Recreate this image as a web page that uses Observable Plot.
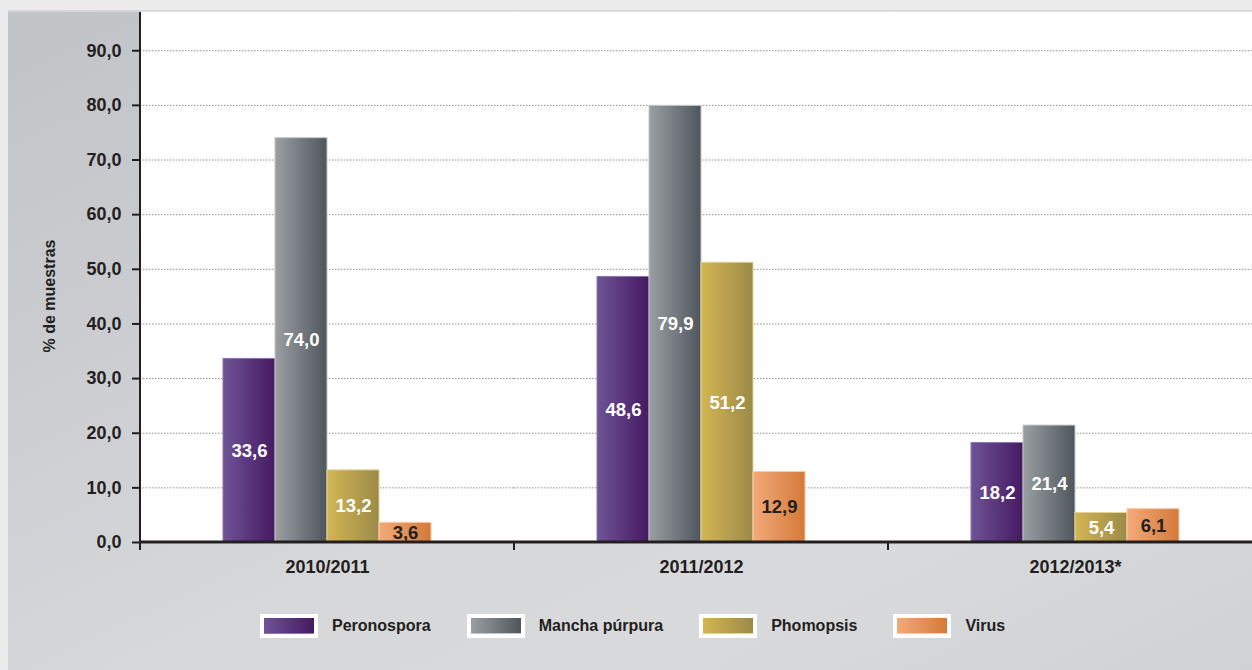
<!DOCTYPE html>
<html>
<head>
<meta charset="utf-8">
<script src="https://cdn.jsdelivr.net/npm/d3@7"></script>
<script src="https://cdn.jsdelivr.net/npm/@observablehq/plot@0.6"></script>
<style>
  html, body { margin: 0; padding: 0; width: 1252px; height: 670px; overflow: hidden; background: #ececec; }
  #bg { position: absolute; left: 8px; top: 10px; width: 1260px; height: 670px;
        border-top: 2px solid #d6d6d6;
        background: linear-gradient(155deg, #c1c4c7 0%, #c9cbce 25%, #d6d7d9 55%, #d9dadc 75%, #cfd1d3 100%); }
  #chart { position: absolute; left: 0; top: 0; width: 1262px; }
  #chart svg { max-width: none !important; }
  #legend { position: absolute; left: 260px; top: 614px; display: flex; align-items: center;
            font-family: "Liberation Sans", Arial, sans-serif; font-weight: bold; font-size: 16px; color: #231f20; }
  .item { display: flex; align-items: center; margin-right: 36px; }
  .box { width: 50px; height: 16px; border: 4px solid #fff; margin-right: 14px; }
</style>
</head>
<body>
<div id="bg"></div>
<div id="chart"></div>
<div id="legend"></div>
<script>
// ---- data ----
const years = ["2010/2011", "2011/2012", "2012/2013*"];
const series = ["Peronospora", "Mancha púrpura", "Phomopsis", "Virus"];
const peronospora = [33.6, 48.6, 18.2];
const manchaPurpura = [74.0, 79.9, 21.4];
const phomopsis = [13.2, 51.2, 5.4];
const virus = [3.6, 12.9, 6.1];
const yTicks = [0, 10, 20, 30, 40, 50, 60, 70, 80, 90];
const yLabel = "% de muestras";

// ---- styles ----
const gradStops = [["#6f5397", "#451962"], ["#9b9fa2", "#4e565d"], ["#d3b553", "#9b8a47"], ["#f3aa79", "#d47939"]];
const strokes = ["#8c77ad", "#c3c6c8", "#e3d396", "#f8cba9"];
const labelColors = ["#ffffff", "#ffffff", "#ffffff", "#231f20"];
const ink = "#231f20";

const valuesBySeries = [peronospora, manchaPurpura, phomopsis, virus];
const data = years.flatMap((yr, i) => series.map((s, j) => ({year: yr, series: s, value: valuesBySeries[j][i], idx: j})));
const fmt = v => v.toFixed(1).replace(".", ",");

const W = 1262, H = 600, ML = 140, MR = 0, MT = 12, MB = H - 542;

const chart = Plot.plot({
  width: W,
  height: H,
  marginLeft: ML,
  marginRight: MR,
  marginTop: MT,
  marginBottom: MB,
  style: {background: "transparent", color: ink, fontFamily: "'Liberation Sans', Arial, sans-serif", overflow: "visible", maxWidth: "none"},
  fx: {domain: years, padding: 0, label: null},
  x: {domain: series, paddingInner: 0, paddingOuter: 1.56, axis: null},
  y: {domain: [0, 97], label: null},
  color: {type: "identity"},
  marks: [
    Plot.frame({fill: "white", stroke: "white", strokeWidth: 1.5}),
    Plot.gridY(yTicks.filter(v => v > 0), {stroke: "#8f8f8f", strokeOpacity: 1, strokeWidth: 1, strokeDasharray: "1.5,1.5"}),
    Plot.barY(data, {fx: "year", x: "series", y: "value", fill: d => `url(#grad${d.idx})`, stroke: d => strokes[d.idx], strokeWidth: 1}),
    Plot.text(data, {fx: "year", x: "series", y: d => d.value / 2, text: d => fmt(d.value), fill: d => labelColors[d.idx],
      fontSize: 18.5, fontWeight: "bold"}),
    Plot.axisY(yTicks, {tickSize: 8, tickPadding: 11, tickFormat: fmt, fontSize: 18, fontWeight: "bold", strokeWidth: 2, label: null}),
    Plot.axisFx({anchor: "bottom", tickSize: 0, tickPadding: 18, fontSize: 18, fontWeight: "bold", label: null})
  ]
});
document.getElementById("chart").appendChild(chart);

// extra decorations drawn once, using the plot's own scales
const svg = d3.select(chart);
const fxScale = chart.scale("fx");
const yScale = chart.scale("y");
const g = svg.append("g");
const defs = g.append("defs");
gradStops.forEach((st, i) => {
  const lg = defs.append("linearGradient").attr("id", "grad" + i).attr("x1", 0).attr("x2", 1).attr("y1", 0).attr("y2", 0);
  lg.append("stop").attr("offset", "0%").attr("stop-color", st[0]);
  lg.append("stop").attr("offset", "100%").attr("stop-color", st[1]);
});
const x0 = ML, x1 = W - MR, yb = yScale.apply(0), yt = MT;
g.append("line").attr("x1", x0).attr("x2", x0).attr("y1", yt).attr("y2", yb)
  .attr("stroke", ink).attr("stroke-width", 2);
g.append("line").attr("x1", x0 - 1).attr("x2", x1).attr("y1", yb).attr("y2", yb)
  .attr("stroke", ink).attr("stroke-width", 3);
years.forEach(yr => {
  const xx = fxScale.apply(yr);
  g.append("line").attr("x1", xx).attr("x2", xx).attr("y1", yb).attr("y2", yb + 8)
    .attr("stroke", ink).attr("stroke-width", 2);
});
g.append("text").attr("transform", `translate(55,${(yt + yb) / 2 + 19}) rotate(-90)`)
  .attr("text-anchor", "middle").attr("fill", ink)
  .attr("font-size", 16).attr("font-weight", "bold").text(yLabel);

// legend
const legend = d3.select("#legend");
series.forEach((s, i) => {
  const it = legend.append("div").attr("class", "item");
  it.append("div").attr("class", "box")
    .style("background", `linear-gradient(to right, ${gradStops[i][0]}, ${gradStops[i][1]})`)
    .style("box-shadow", `inset 0 -1px 0 ${strokes[i]}`);
  it.append("span").text(s);
});
</script>
</body>
</html>
